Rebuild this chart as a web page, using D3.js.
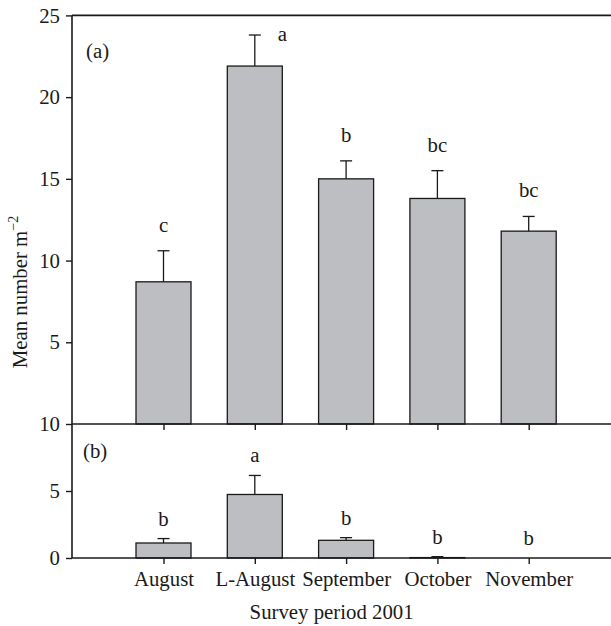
<!DOCTYPE html>
<html>
<head>
<meta charset="utf-8">
<script src="https://cdn.jsdelivr.net/npm/d3@7"></script>
<style>
  html, body { margin: 0; padding: 0; background: #fff; }
  svg { display: block; }
  text { font-family: "Liberation Serif", "Times New Roman", serif; fill: #1a1a1a; }
</style>
</head>
<body>
<svg id="chart" width="611" height="626"></svg>
<script>
// ---- data ----
const categories = ["August", "L-August", "September", "October", "November"];
const meanA = [8.7, 21.9, 15.0, 13.8, 11.8];
const errA  = [1.9, 1.9, 1.1, 1.7, 0.9];
const lettersA = ["c", "a", "b", "bc", "bc"];
const meanB = [1.12, 4.74, 1.32, 0.03, 0];
const errB  = [0.33, 1.42, 0.2, 0.07, 0];
const lettersB = ["b", "a", "b", "b", "b"];
const ticksA = [5, 10, 15, 20, 25];
const ticksB = [0, 5, 10];
const xTitle = "Survey period 2001";
const yTitle = "Mean number m";

// ---- layout ----
const svg = d3.select("#chart");
const axisLeftX = 72, axisRightX = 611;
const fontSize = 20.8;
const barFill = "#bdbec2";
const ink = "#1a1a1a";

const x = d3.scalePoint().domain(categories).range([163.5, 528.7]);
const barW = 55;

const yA = d3.scaleLinear().domain([0, 25]).range([424, 15.4]);
const yB = d3.scaleLinear().domain([0, 10]).range([558, 424]);

function drawPanel(y, means, errs, letters, gap, labelRightFor) {
  const g = svg.append("g");
  const data = categories.map((c, i) => ({c, m: means[i], e: errs[i], l: letters[i], i}));
  // bars
  g.selectAll("rect.bar").data(data).join("rect")
    .attr("class", "bar")
    .attr("x", d => x(d.c) - barW / 2)
    .attr("width", barW)
    .attr("y", d => y(d.m))
    .attr("height", d => y(0) - y(d.m))
    .attr("fill", barFill)
    .attr("stroke", ink)
    .attr("stroke-width", 1.3);
  // error bars
  const eb = data.filter(d => d.e > 0);
  g.selectAll("line.err").data(eb).join("line")
    .attr("x1", d => x(d.c)).attr("x2", d => x(d.c))
    .attr("y1", d => y(d.m)).attr("y2", d => y(d.m + d.e))
    .attr("stroke", ink).attr("stroke-width", 1.3);
  g.selectAll("line.cap").data(eb).join("line")
    .attr("x1", d => x(d.c) - 6).attr("x2", d => x(d.c) + 6)
    .attr("y1", d => y(d.m + d.e)).attr("y2", d => y(d.m + d.e))
    .attr("stroke", ink).attr("stroke-width", 1.3);
  // significance letters
  g.selectAll("text.sig").data(data).join("text")
    .attr("class", "sig")
    .attr("text-anchor", "middle")
    .attr("font-size", fontSize)
    .attr("x", d => d.i === labelRightFor ? x(d.c) + barW / 2 : x(d.c))
    .attr("y", d => d.i === labelRightFor ? y(d.m + d.e) + 6 : y(d.m + d.e) - gap)
    .text(d => d.l);
}

drawPanel(yA, meanA, errA, lettersA, 19, 1);
drawPanel(yB, meanB, errB, lettersB, 13, -1);

// frame lines
const frame = svg.append("g").attr("stroke", ink).attr("stroke-width", 1.6);
frame.append("line").attr("x1", axisLeftX).attr("x2", axisRightX).attr("y1", yA(25)).attr("y2", yA(25));
frame.append("line").attr("x1", axisLeftX).attr("x2", axisRightX).attr("y1", yA(0)).attr("y2", yA(0));
frame.append("line").attr("x1", axisLeftX).attr("x2", axisRightX).attr("y1", yB(0)).attr("y2", yB(0));
frame.append("line").attr("x1", axisLeftX).attr("x2", axisLeftX).attr("y1", yA(25)).attr("y2", yB(0));

// y axes
function yAxis(scale, ticks) {
  const g = svg.append("g").attr("transform", `translate(${axisLeftX},0)`)
    .call(d3.axisLeft(scale).tickValues(ticks).tickSize(6).tickPadding(6).tickFormat(d3.format("d")));
  g.select(".domain").remove();
  g.selectAll(".tick line").attr("stroke", ink).attr("stroke-width", 1.4);
  g.selectAll(".tick text").attr("font-size", fontSize).attr("font-family", "Liberation Serif").attr("fill", ink);
}
yAxis(yA, ticksA);
yAxis(yB, ticksB);

// x axes
function xAxis(yPos, withLabels) {
  const g = svg.append("g").attr("transform", `translate(0,${yPos})`)
    .call(d3.axisBottom(x).tickSize(6).tickFormat(withLabels ? (d => d) : () => ""));
  g.select(".domain").remove();
  g.selectAll(".tick line").attr("stroke", ink).attr("stroke-width", 1.4);
  g.selectAll(".tick text").attr("font-size", fontSize).attr("font-family", "Liberation Serif")
    .attr("fill", ink).attr("y", 28).attr("dy", 0);
}
xAxis(yA(0), false);
xAxis(yB(0), true);

// panel labels
svg.append("text").attr("x", 86).attr("y", 58).attr("font-size", fontSize).text("(a)");
svg.append("text").attr("x", 83).attr("y", 458).attr("font-size", fontSize).text("(b)");

// axis titles
svg.append("text").attr("x", 331.6).attr("y", 619).attr("text-anchor", "middle")
  .attr("font-size", fontSize).text(xTitle);
const yt = svg.append("text")
  .attr("transform", "translate(27,292) rotate(-90)")
  .attr("text-anchor", "middle")
  .attr("font-size", fontSize);
yt.append("tspan").text(yTitle);
yt.append("tspan").attr("font-size", 14).attr("dy", -9).text("\u22122");
</script>
</body>
</html>
